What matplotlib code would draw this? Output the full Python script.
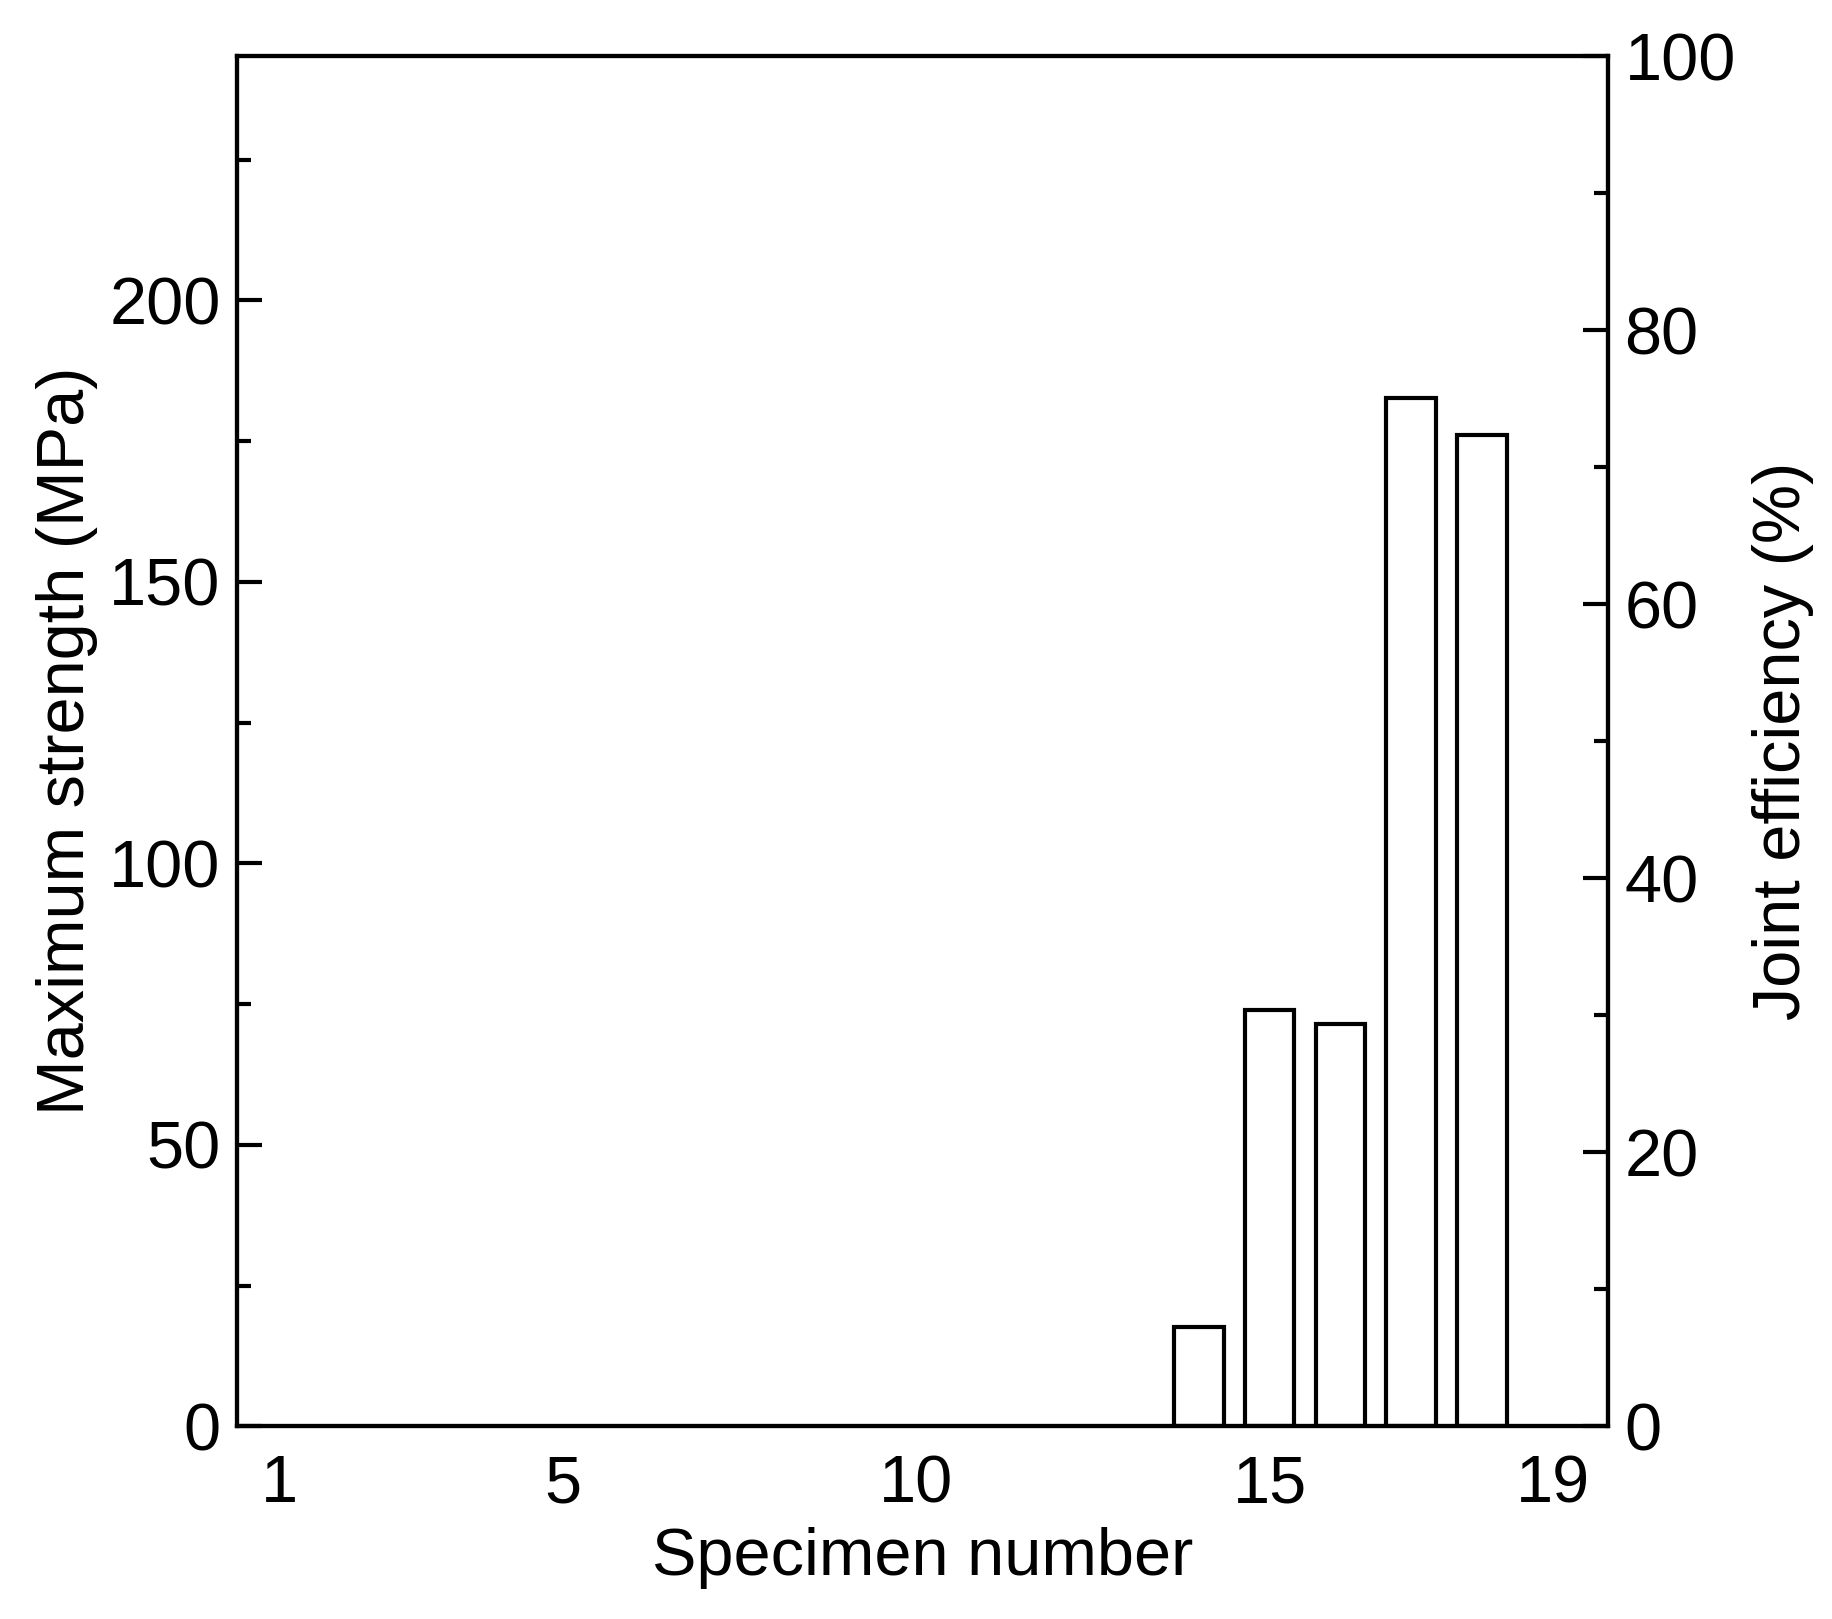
import matplotlib.pyplot as plt
from matplotlib.ticker import MultipleLocator

plt.rcParams['font.family'] = ['Liberation Sans', 'DejaVu Sans']

# specimen numbers and max strength (MPa)
specimens = [14, 15, 16, 17, 18]
strength = [17.6, 73.9, 71.4, 182.6, 176.1]
xticks = [1, 5, 10, 15, 19]

fs = 48
fig = plt.figure(figsize=(18.32, 16.19), dpi=100)
ax = fig.add_axes([0.1295, 0.119, 0.7481, 0.8464])
ax.bar(specimens, strength, width=0.7, facecolor='white', edgecolor='black', linewidth=3)
ax.set_xlim(0.4, 19.78)
ax.set_ylim(0, 243.4)
ax.set_xticks(xticks)
ax.yaxis.set_major_locator(MultipleLocator(50))
ax.yaxis.set_minor_locator(MultipleLocator(25))
ax.tick_params(axis='y', which='both', direction='in', width=3, labelsize=fs, pad=12)
ax.tick_params(axis='y', which='major', length=18)
ax.tick_params(axis='y', which='minor', length=10)
ax.tick_params(axis='x', length=0, labelsize=fs, pad=20)
ax.set_xlabel('Specimen number', fontsize=fs, labelpad=8)
ax.set_ylabel('Maximum strength (MPa)', fontsize=fs, labelpad=8)

ax2 = ax.twinx()
ax2.set_ylim(0, 100)
ax2.yaxis.set_major_locator(MultipleLocator(20))
ax2.yaxis.set_minor_locator(MultipleLocator(10))
ax2.tick_params(axis='y', which='both', direction='in', width=3, labelsize=fs, pad=12)
ax2.tick_params(axis='y', which='major', length=18)
ax2.tick_params(axis='y', which='minor', length=10)
ax2.set_ylabel('Joint efficiency (%)', fontsize=fs, labelpad=12)

for a in (ax, ax2):
    for s in a.spines.values():
        s.set_linewidth(3)

fig.savefig('out.png')
